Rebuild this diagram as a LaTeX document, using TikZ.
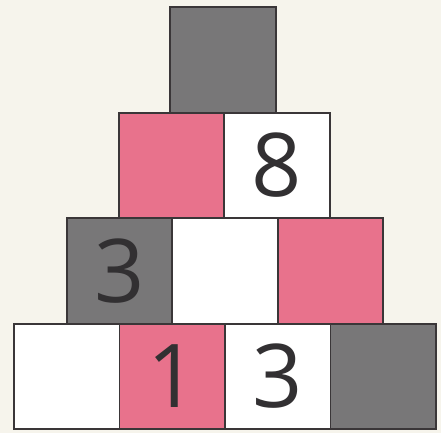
\documentclass[tikz,border=0pt]{standalone}
\usepackage{fontspec}
\setmainfont{Open Sans}
\definecolor{paper}{RGB}{246,244,236}
\definecolor{rosa}{RGB}{232,114,140}
\definecolor{stone}{RGB}{120,119,120}
\definecolor{edge}{RGB}{58,54,56}
\definecolor{ink}{RGB}{50,48,50}
\tikzset{
  brick/.style={draw=edge, line width=1.6pt, minimum width=105.5pt, minimum height=105.5pt,
    inner sep=0pt, text=ink, font=\fontsize{88}{88}\selectfont}
}

\begin{document}
\begin{tikzpicture}[x=1pt,y=-1pt]
\fill[paper] (0,0) rectangle (441,433);
\useasboundingbox (0,0) rectangle (441,433);
% bottom row first, so the upper rows lie on top
\foreach \n/\x/\y/\c/\t in {d1/66.75/376.5/white/{},d2/172.25/376.5/rosa/1,d3/277.75/376.5/white/3,d4/383.25/376.5/stone/{},
  c1/119.5/271/stone/3,c2/225/271/white/{},c3/330.5/271/rosa/{},
  b1/171.5/165.5/rosa/{},b2/277/165.5/white/8,
  a1/223/60/stone/{}}{
  \node[brick,fill=\c] (\n) at (\x,\y) {\t};
}
\end{tikzpicture}
\end{document}
